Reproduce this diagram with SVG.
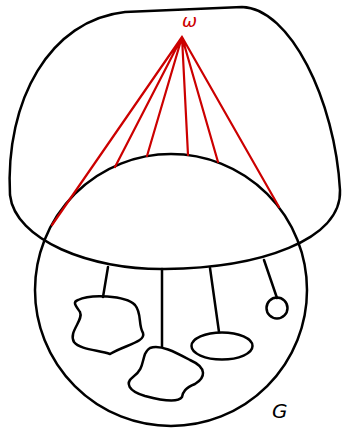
<svg xmlns="http://www.w3.org/2000/svg" width="344" height="428" viewBox="0 0 344 428">
<style>
.k{fill:none;stroke:#000;stroke-width:2.5;stroke-linejoin:round;stroke-linecap:round}
.r{fill:none;stroke:#cc0000;stroke-width:2.2;stroke-linecap:round}
.t{font-family:"DejaVu Sans",sans-serif;font-style:italic}
</style>
<rect width="344" height="428" fill="#fff"/>
<g id="omega-region">
<path class="k" d="M 125,12 L 242,7 C 290,8 335,100 340,190 C 342,240 260,268 165,269 C 90,270 15,240 10,195 C 5,100 50,20 125,12 Z"/>
</g>
<g id="G">
<circle class="k" cx="171" cy="290" r="136"/>
<text class="t" x="272" y="418" font-size="20" fill="#000">G</text>
</g>
<g id="omega">
<text class="t" x="189.5" y="27" font-size="18" fill="#cc0000" text-anchor="middle">ω</text>
</g>
<g id="comp1"><path class="k" d="M 78,300 C 90,294 125,295 135,305 C 142,313 138,325 143,333 C 146,342 125,345 110,354 C 100,350 80,350 74,342 C 68,332 84,320 80,312 C 76,306 72,302 78,300 Z"/></g>
<g id="comp2"><path class="k" d="M 150,348 C 160,344 175,352 190,360 C 208,368 205,378 195,384 C 185,388 183,392 182,397 C 178,403 160,400 145,396 C 128,391 125,383 133,377 C 143,370 142,362 145,354 C 147,350 148,349 150,348 Z"/></g>
<g id="comp3"><ellipse class="k" cx="222" cy="346" rx="30.5" ry="13.5"/></g>
<g id="comp4"><circle class="k" cx="277" cy="308" r="10.5"/></g>
<g id="connectors">
<path class="r" d="M182,37 L52,225 M182,37 L115,167 M182,37 L147,156 M182,37 L188,155 M182,37 L218,162 M182,37 L279,207"/>
<path class="k" d="M108,267 L103,297 M162,269 L162,347 M210,268 L219,332 M264,260 L277,298"/>
</g>
</svg>
